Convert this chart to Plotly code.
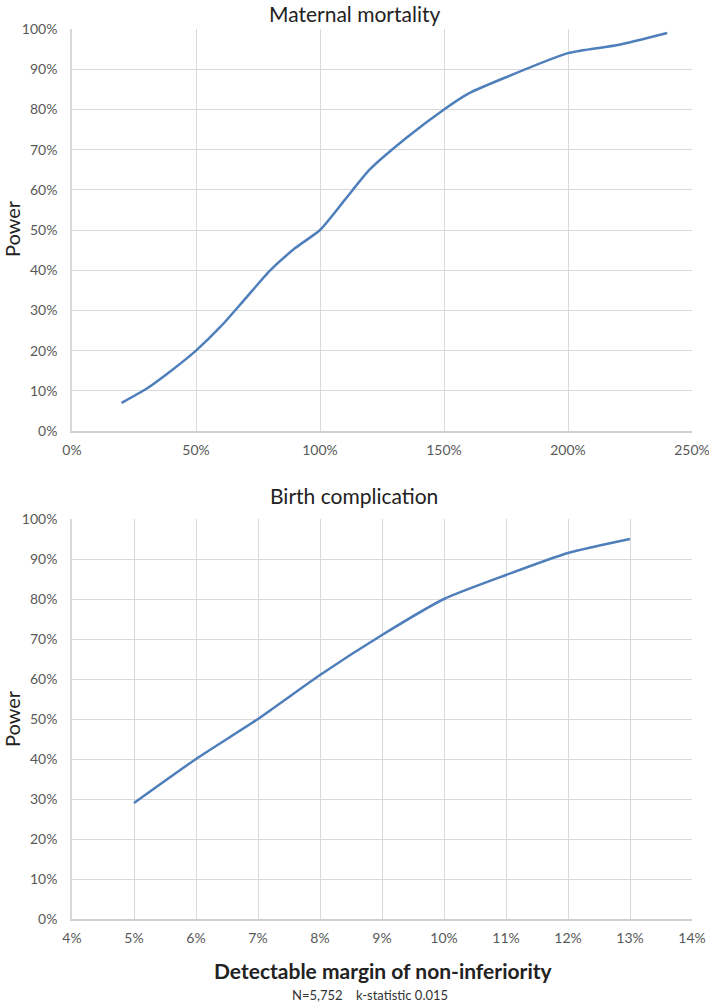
import plotly.graph_objects as go
from plotly.subplots import make_subplots

# Maternal mortality: detectable margin (%) vs power (%)
mm_margin = [20, 30, 40, 50, 60, 70, 80, 90, 100, 110, 120, 135, 150, 160, 175, 200, 220, 240]
mm_power = [7, 10.5, 15, 20, 26, 33, 40, 45.5, 50, 57.5, 65, 73, 80, 84, 88, 94, 96, 99]

# Birth complication
bc_margin = [5, 6, 7, 8, 9, 10, 11, 12, 13]
bc_power = [29, 40, 50, 61, 71, 80, 86, 91.5, 95]

LINE = '#4f7fbb'
FONT = 'Lato, Open Sans, sans-serif'
TICK = dict(size=14, color='#595959', family=FONT)

W, H = 709, 1007


def px_x(p):
    return p / W


def px_y(p):
    return 1 - p / H


fig = make_subplots(rows=2, cols=1)

fig.add_trace(go.Scatter(x=mm_margin, y=mm_power, mode='lines',
                         line=dict(color=LINE, width=2.5, shape='spline', smoothing=0.6),
                         showlegend=False), row=1, col=1)
fig.add_trace(go.Scatter(x=bc_margin, y=bc_power, mode='lines',
                         line=dict(color=LINE, width=2.5, shape='spline', smoothing=0.6),
                         showlegend=False), row=2, col=1)

_axis = dict(showgrid=True, gridcolor='#d9d9d9', gridwidth=1, zeroline=False,
             ticksuffix='%', tickfont=TICK, automargin=False, ticks='')

fig.update_xaxes(domain=[px_x(72), px_x(692)], ticklabelstandoff=5,
                 ticklabeloverflow='allow', **_axis)
fig.update_yaxes(range=[0, 100], dtick=10, showline=True, linecolor='#d9d9d9', linewidth=1.5,
                 ticklabelstandoff=10, **_axis)

fig.update_xaxes(range=[0, 250], dtick=50, showline=True, linecolor='#cfcfcf', linewidth=1.5,
                 row=1, col=1)
fig.update_xaxes(range=[4, 14], dtick=1, showline=True, linecolor='#cfcfcf', linewidth=1.5,
                 row=2, col=1)
fig.update_yaxes(domain=[px_y(431), px_y(29)], row=1, col=1)
fig.update_yaxes(domain=[px_y(919), px_y(519)], row=2, col=1)

annotations = [
    dict(text='Maternal mortality', x=px_x(354), y=px_y(13), font=dict(size=21, color='#222')),
    dict(text='Birth complication', x=px_x(354), y=px_y(495), font=dict(size=21, color='#222')),
    dict(text='Power', x=px_x(12), y=px_y(229), textangle=-90, font=dict(size=20, color='#222')),
    dict(text='Power', x=px_x(12), y=px_y(719), textangle=-90, font=dict(size=20, color='#222')),
    dict(text='<b>Detectable margin of non-inferiority</b>', x=px_x(383), y=px_y(970),
         font=dict(size=21, color='#222')),
    dict(text='N=5,752&nbsp;&nbsp;&nbsp;&nbsp;k-statistic 0.015', x=px_x(370), y=px_y(995),
         font=dict(size=13, color='#333')),
]
for a in annotations:
    a.update(xref='paper', yref='paper', showarrow=False, xanchor='center', yanchor='middle')
    a['font']['family'] = FONT

fig.update_layout(
    width=W, height=H,
    margin=dict(l=0, r=0, t=0, b=0),
    paper_bgcolor='white', plot_bgcolor='white',
    annotations=annotations,
    showlegend=False,
)

# drop the browser's default body margin so the figure sits at the page origin
fig.write_html("out.html", config={'displayModeBar': False},
               post_script="document.body.style.margin='0';")
